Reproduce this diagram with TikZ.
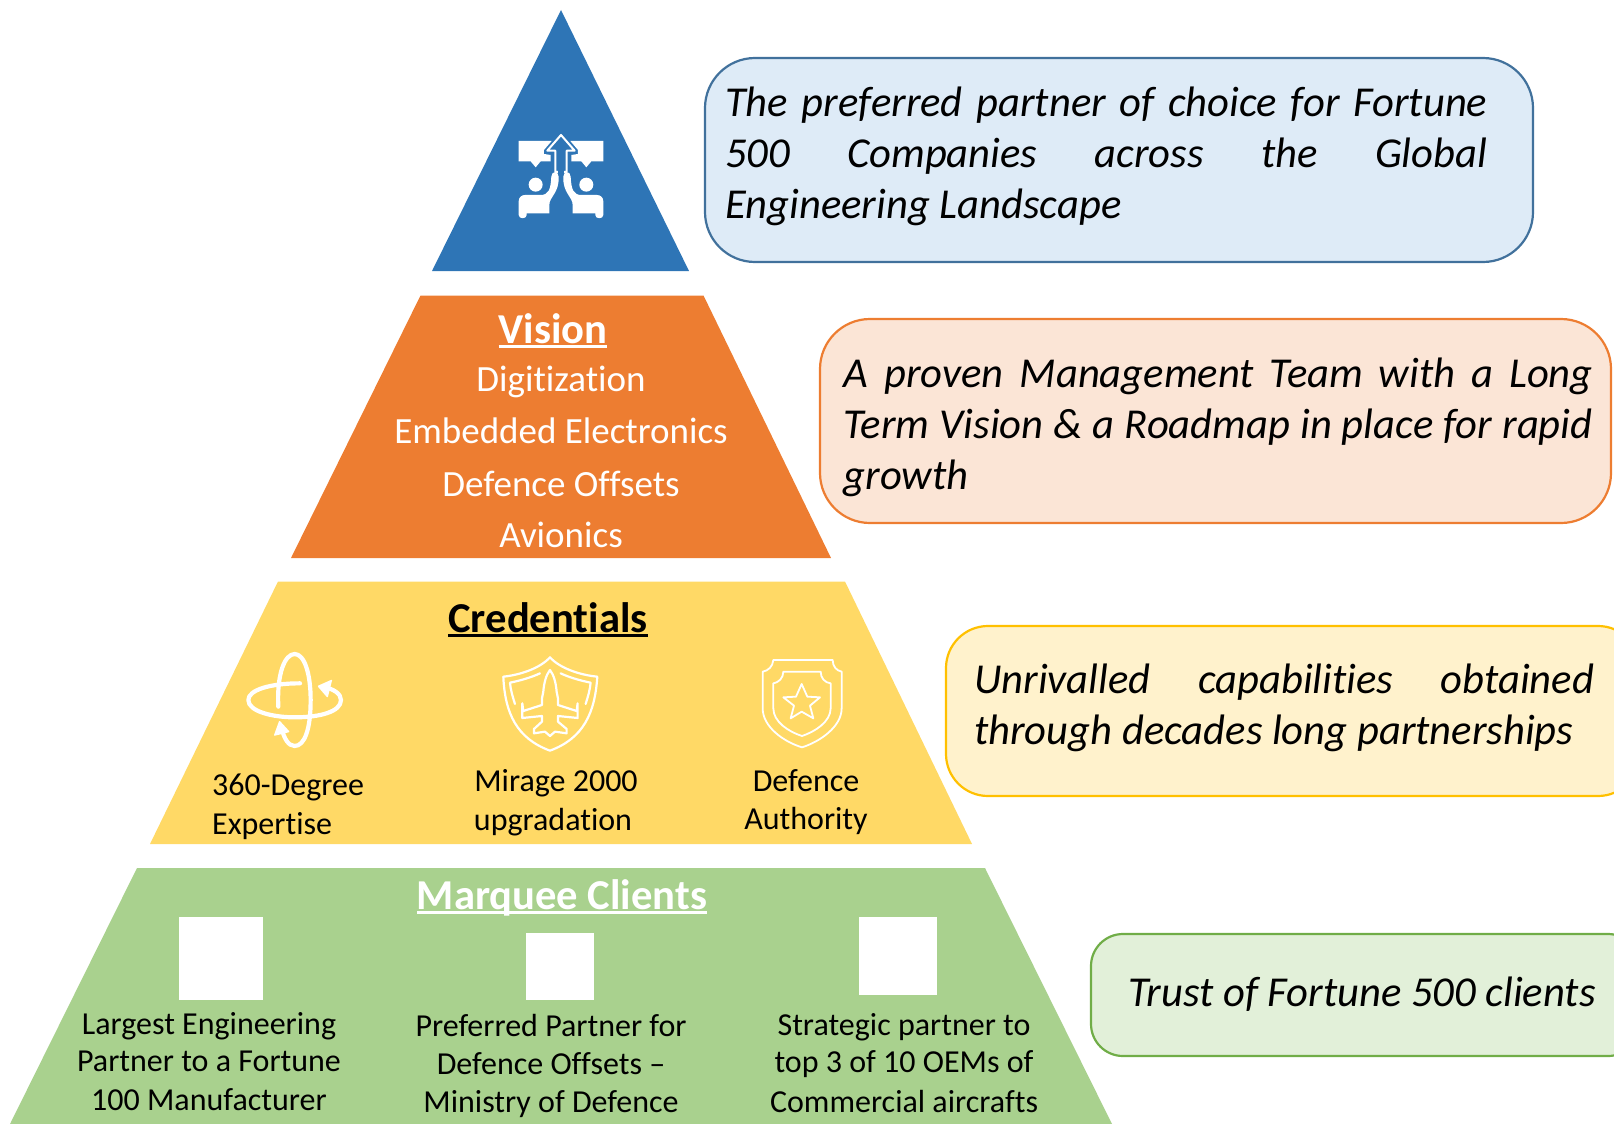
\documentclass[tikz,border=0pt]{standalone}
\usepackage{fontspec}
\setmainfont[Ligatures=NoCommon]{Carlito}
\newcommand{\ulbar}[1]{\setbox0=\hbox{#1}\rlap{\rule[-4pt]{\wd0}{2.6pt}}\box0}
\definecolor{cblue}{HTML}{2E75B6}
\definecolor{corange}{HTML}{ED7D31}
\definecolor{cyellow}{HTML}{FFD966}
\definecolor{cgreen}{HTML}{A9D18E}
\definecolor{fb}{HTML}{DEEBF7}
\definecolor{fo}{HTML}{FBE5D6}
\definecolor{fy}{HTML}{FFF2CC}
\definecolor{fg}{HTML}{E2F0D9}
\definecolor{sb}{HTML}{41719C}
\definecolor{sy}{HTML}{FFC000}
\definecolor{sg}{HTML}{70AD47}
\tikzset{
  tier/.style={fill=#1,draw=none},
  callout/.style n args={3}{draw=#1,fill=#2,line width=2.2pt,rounded corners=#3},
  quote/.style={inner sep=0pt,align=justify,anchor=north west,font=\fontsize{42.6}{51}\selectfont\itshape},
  head/.style={inner sep=0pt,font=\fontsize{42.6}{50}\selectfont\bfseries},
  vitem/.style={inner sep=0pt,text=white,font=\fontsize{37}{44}\selectfont},
  item/.style={inner sep=0pt,text=black,font=\fontsize{32}{38}\selectfont},
  iconline/.style={draw=white,line cap=round,line join=round},
  logo/.style={fill=white,draw=none}
}
\begin{document}
\begin{tikzpicture}[x=1pt,y=-1pt]
\useasboundingbox (0,0) rectangle (1614,1124);
% tiers
\fill[tier=cblue] (561,10) -- (689,271) -- (432,271) -- cycle;
\fill[tier=corange] (420.5,295.5) -- (703.5,295.5) -- (831,558) -- (291,558) -- cycle;
\fill[tier=cyellow] (278,581.5) -- (845,581.5) -- (972,844) -- (150,844) -- cycle;
\fill[tier=cgreen] (137,868) -- (985,868) -- (1112,1124) -- (10,1124) -- cycle;
% callouts
\path[callout={sb}{fb}{50pt}] (705,58) rectangle (1533,262);
\path[callout={corange}{fo}{50pt}] (820,319) rectangle (1611,523);
\path[callout={sy}{fy}{42pt}] (946,626) rectangle (1640,796);
\path[callout={sg}{fg}{32pt}] (1091,934) rectangle (1640,1056);
% callout text
\node[quote,text width=762pt] (q1) at (725,87) {The preferred partner of choice for Fortune\linebreak 500 Companies across the Global\linebreak Engineering Landscape};
\node[quote,text width=749pt] (q2) at (843.5,358) {A proven Management Team with a Long\linebreak Term Vision \& a Roadmap in place for rapid\linebreak growth};
\node[quote,text width=620pt] (q3) at (974,663.5) {Unrivalled capabilities obtained\linebreak through decades long partnerships};
\node[quote,text width=480pt] (q4) at (1128,977) {Trust of Fortune 500 clients};
% vision
\node[head,text=white] (vision) at (553,331) {\ulbar{Vision}};
\node[vitem] (v1) at (561,382) {Digitization};
\node[vitem] (v2) at (561,431) {Embedded Electronics};
\node[vitem] (v3) at (561,484) {Defence Offsets};
\node[vitem] (v4) at (561,535) {Avionics};
% credentials
\node[head,text=black] (cred) at (548,620) {\ulbar{Credentials}};
\node[item,anchor=west] (c1a) at (212,787) {360-Degree};
\node[item,anchor=west] (c1b) at (212,826) {Expertise};
\node[item] (c2a) at (556,783) {Mirage 2000};
\node[item] (c2b) at (553,822) {upgradation};
\node[item] (c3a) at (806,781) {Defence};
\node[item] (c3b) at (806,821) {Authority};
% clients
\node[head,text=white] (marq) at (562,898) {\ulbar{Marquee Clients}};
\fill[logo] (179,917) rectangle (263,1000);
\fill[logo] (526,933) rectangle (594,1000);
\fill[logo] (859,917) rectangle (937,995);
\node[item] (m1a) at (209,1026) {Largest Engineering};
\node[item] (m1b) at (209,1061) {Partner to a Fortune};
\node[item] (m1c) at (209,1100) {100 Manufacturer};
\node[item] (m2a) at (551,1025) {Preferred Partner for};
\node[item] (m2b) at (551,1064) {Defence Offsets –};
\node[item] (m2c) at (551,1104) {Ministry of Defence};
\node[item] (m3a) at (904,1027) {Strategic partner to};
\node[item] (m3b) at (904,1064) {top 3 of 10 OEMs of};
\node[item] (m3c) at (904,1101) {Commercial aircrafts};
% top icon (zoom coordinates)
\begin{scope}[shift={(420,0)},x=0.3333pt,y=-0.3333pt]
  \fill[logo] (296,423) -- (395,423) -- (372,450) -- (372,462) -- (392,465) -- (392,484) -- (362,484) -- (347,502) -- (332,484) -- (296,484) -- cycle;
  \fill[logo] (550,423) -- (451,423) -- (474,450) -- (474,462) -- (454,465) -- (454,484) -- (514,484) -- (499,502) -- (484,484) -- (550,484) -- cycle;
  \draw[iconline,line width=2pt,fill=cblue] (423,405) -- (464,452) -- (440,452) -- (440,516) -- (406,516) -- (406,452) -- (382,452) -- cycle;
  \fill[cblue] (413,450) rectangle (433,530);
  \fill[logo] (347,554) circle (21);
  \fill[logo] (499,554) circle (21);
  \fill[logo] (296,645) -- (296,604) .. controls (296,592) and (305,585) .. (315,585) -- (362,585) .. controls (385,585) and (392,570) .. (394,530) .. controls (395,512) and (415,512) .. (416,530) .. controls (418,580) and (388,590) .. (388,615) -- (388,640) -- (320,640) -- (320,645) .. controls (320,658) and (296,658) .. (296,645) -- cycle;
  \fill[logo] (550,645) -- (550,604) .. controls (550,592) and (541,585) .. (531,585) -- (484,585) .. controls (461,585) and (454,570) .. (452,530) .. controls (451,512) and (431,512) .. (430,530) .. controls (428,580) and (458,590) .. (458,615) -- (458,640) -- (526,640) -- (526,645) .. controls (526,658) and (550,658) .. (550,645) -- cycle;
\end{scope}
% credentials icons (zoom coordinates)
\begin{scope}[shift={(220,630)},x=0.3333pt,y=-0.3333pt]
  \draw[iconline,line width=4.2pt] (175,230) .. controls (170,130) and (195,72) .. (224,72) .. controls (253,72) and (272,130) .. (272,210) .. controls (272,300) and (253,348) .. (224,348) .. controls (205,348) and (192,325) .. (185,295);
  \draw[iconline,line width=4.2pt] (240,160) .. controls (150,160) and (85,180) .. (85,210) .. controls (85,245) and (160,262) .. (224,262) .. controls (300,262) and (363,245) .. (363,210) .. controls (363,190) and (340,178) .. (312,170);
  \fill[logo,rounded corners=1pt] (337,148) -- (292,168) -- (323,204) -- cycle;
  \fill[logo,rounded corners=1pt] (161,318) -- (210,306) -- (178,271) -- cycle;
  % shield with plane
  \draw[iconline,line width=2.2pt] (990,82) .. controls (960,115) and (900,135) .. (850,140) .. controls (855,250) and (890,325) .. (990,362) .. controls (1090,325) and (1125,250) .. (1132,140) .. controls (1080,135) and (1020,115) .. (990,82) -- cycle;
  \draw[iconline,line width=2.2pt] (885,222) .. controls (878,200) and (872,180) .. (870,158) .. controls (900,152) and (935,142) .. (960,130);
  \draw[iconline,line width=2.2pt] (1097,222) .. controls (1104,200) and (1110,180) .. (1112,158) .. controls (1082,152) and (1047,142) .. (1022,130);
  \draw[iconline,line width=2.2pt] (990,120) .. controls (1002,135) and (1008,160) .. (1010,185) -- (1014,205) -- (1014,225) -- (1070,243) -- (1073,220) -- (1073,264) -- (1014,258) -- (1014,275) -- (1040,297) -- (1040,310) -- (1005,305) -- (990,318) -- (975,305) -- (942,310) -- (942,297) -- (966,275) -- (966,258) -- (907,264) -- (907,220) -- (910,243) -- (966,225) -- (966,205) -- (970,185) .. controls (972,160) and (978,135) .. (990,120) -- cycle;
\end{scope}
\begin{scope}[shift={(700,640)},x=0.3333pt,y=-0.3333pt]
  \draw[iconline,line width=1.8pt] (220,60) -- (398,60) .. controls (398,80) and (410,92) .. (425,95) -- (425,205) .. controls (425,260) and (360,305) .. (306,322) .. controls (250,305) and (188,260) .. (188,205) -- (188,95) .. controls (205,92) and (218,80) .. (220,60) -- cycle;
  \draw[iconline,line width=1.8pt] (250,95) -- (362,95) .. controls (362,115) and (375,128) .. (392,130) -- (392,205) .. controls (392,245) and (345,275) .. (306,288) .. controls (265,275) and (220,245) .. (220,205) -- (220,130) .. controls (235,128) and (250,115) .. (250,95) -- cycle;
  \draw[iconline,line width=1.8pt] (305,132) -- (322,170) -- (360,172) -- (330,197) -- (340,235) -- (305,215) -- (272,235) -- (282,197) -- (250,172) -- (288,170) -- cycle;
\end{scope}
\end{tikzpicture}
\end{document}
